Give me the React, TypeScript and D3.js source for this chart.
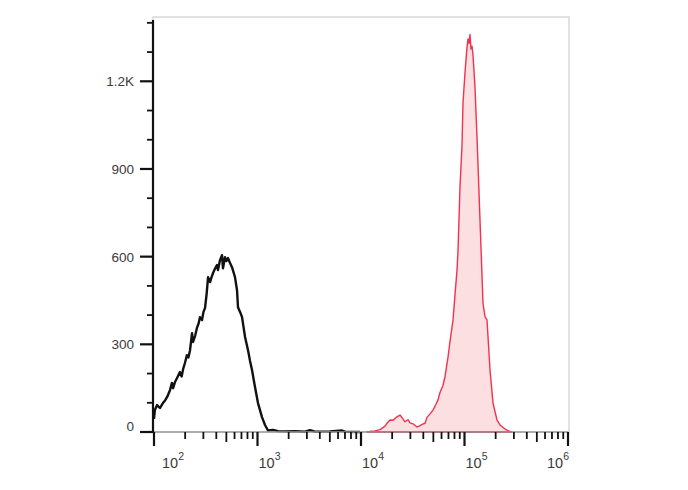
import React from "react";
import * as d3 from "d3";

// Black (unstained / control) histogram: fluorescence intensity vs count
const controlIntensity = [100, 102, 107, 114, 122, 128, 134, 143, 149, 153, 160, 167, 178, 185, 191, 199, 208, 215, 223, 233, 238, 250, 260, 270, 278, 291, 300, 311, 322, 333, 348, 360, 372, 390, 406, 415, 434, 454, 464, 485, 500, 519, 540, 567, 606, 634, 648, 680, 709, 758, 810, 845, 885, 946, 1011, 1105, 1182, 1263, 1412, 1578, 1844, 2303, 2877, 3216, 3594, 5018, 6553, 7004, 9779];
const controlCount = [45, 75, 92, 82, 99, 108, 120, 144, 168, 150, 172, 185, 205, 190, 215, 236, 263, 255, 280, 338, 308, 330, 356, 372, 393, 383, 410, 424, 470, 530, 513, 530, 544, 560, 571, 554, 588, 605, 560, 598, 585, 595, 580, 564, 530, 485, 427, 410, 393, 325, 280, 245, 212, 154, 99, 51, 24, 5, 7, 3, 2, 3, 1, 6, 1, 2, 5, 1, 0];

// Red (stained) histogram
const stainedIntensity = [11430, 12220, 13660, 15260, 17060, 17840, 19060, 20380, 22270, 23820, 25460, 26620, 28460, 29750, 31810, 34760, 37150, 38850, 41530, 43420, 46420, 49630, 53050, 55460, 57990, 62000, 64820, 69290, 72440, 77440, 80960, 84640, 86540, 90470, 94580, 96710, 101100, 105700, 108100, 110500, 113000, 115600, 118200, 120800, 126300, 132100, 141200, 150900, 157800, 165000, 176400, 188600, 206100, 220300, 246200, 275200, 287700];
const stainedCount = [0, 2, 4, 8, 20, 30, 41, 40, 52, 58, 45, 35, 42, 31, 28, 17, 22, 26, 30, 50, 62, 75, 95, 110, 135, 160, 190, 256, 310, 383, 470, 554, 620, 838, 980, 1125, 1230, 1316, 1345, 1330, 1360, 1310, 1320, 1290, 1180, 1009, 725, 441, 395, 383, 212, 99, 41, 24, 10, 2, 0];

// Axes
const xDomain = [100, 1000000];
const xDecades = [100, 1000, 10000, 100000, 1000000];
const xExponents = ["2", "3", "4", "5", "6"];
const yDomain = [0, 1420];
const yMajorTicks = [0, 300, 600, 900, 1200];
const yMajorLabels = ["0", "300", "600", "900", "1.2K"];
const yMinorTicks = [100, 200, 400, 500, 700, 800, 1000, 1100, 1300, 1400];

const W = 688;
const H = 490;
const left = 154;
const right = 568;
const top = 17;
const bottom = 432;

export default function App() {
  const x = d3.scaleLog().domain(xDomain).range([left, right]);
  const y = d3.scaleLinear().domain(yDomain).range([bottom, top]);

  const control = controlIntensity.map((v, i) => [v, controlCount[i]] as [number, number]);
  const stained = stainedIntensity.map((v, i) => [v, stainedCount[i]] as [number, number]);

  const line = d3
    .line<[number, number]>()
    .x((d) => x(d[0]))
    .y((d) => y(d[1]));
  const area = d3
    .area<[number, number]>()
    .x((d) => x(d[0]))
    .y0(y(0))
    .y1((d) => y(d[1]));

  const minorX: { v: number; mid: boolean }[] = [];
  for (let i = 0; i < xDecades.length - 1; i++) {
    for (let m = 2; m <= 9; m++) minorX.push({ v: xDecades[i] * m, mid: m === 5 });
  }

  const font = "'Liberation Sans', Arial, sans-serif";

  return (
    <svg
      width={W}
      height={H}
      style={{ position: "absolute", left: 0, top: 0, display: "block", background: "#fff" }}
    >
      <rect x={0} y={0} width={W} height={H} fill="#fff" />
      {/* frame */}
      <rect x={left - 1} y={top} width={right - left + 2} height={bottom - top} fill="none" stroke="#cfcfcf" strokeWidth={1.2} />

      {/* stained histogram */}
      <path d={area(stained) || ""} fill="#fcdfe1" stroke="#f0324e" strokeWidth={1.4} strokeLinejoin="round" />
      <path d={`M${x(stainedIntensity[0])},${y(0)}H${x(stainedIntensity[stainedIntensity.length - 1])}`} stroke="#e8283f" strokeWidth={2} />

      {/* control histogram */}
      <path d={line(control) || ""} fill="none" stroke="#111" strokeWidth={2.4} strokeLinejoin="round" />

      {/* x axis */}
      <line x1={left} x2={right} y1={bottom} y2={bottom} stroke="#9a9a9a" strokeWidth={1.5} />
      {xDecades.map((v) => (
        <line key={"xM" + v} x1={x(v)} x2={x(v)} y1={bottom} y2={bottom + 14} stroke="#111" strokeWidth={2.2} />
      ))}
      {minorX.map((t) => (
        <line key={"xm" + t.v} x1={x(t.v)} x2={x(t.v)} y1={bottom} y2={bottom + (t.mid ? 10 : 7)} stroke="#111" strokeWidth={1.8} />
      ))}
      {xDecades.map((v, i) => {
        const last = i === xDecades.length - 1;
        const xx = i === 0 ? x(v) + 8 : last ? x(v) + 1 : x(v) + 1;
        return (
          <text
            key={"xl" + v}
            x={xx}
            y={468}
            fontFamily={font}
            fontSize={14.5}
            fill="#3a3a3a"
            textAnchor={last ? "end" : "start"}
          >
            10
            <tspan dy={-8} fontSize={10.5}>
              {xExponents[i]}
            </tspan>
          </text>
        );
      })}

      {/* y axis */}
      <line x1={left - 1} x2={left - 1} y1={top + 3} y2={bottom + 1} stroke="#111" strokeWidth={2.2} />
      {yMajorTicks.map((v) => (
        <line key={"yM" + v} x1={left - 14} x2={left - 1} y1={y(v)} y2={y(v)} stroke="#111" strokeWidth={2.2} />
      ))}
      {yMinorTicks.map((v) => (
        <line key={"ym" + v} x1={left - 7} x2={left - 1} y1={y(v)} y2={y(v)} stroke="#111" strokeWidth={1.8} />
      ))}
      {yMajorTicks.map((v, i) => (
        <text
          key={"yl" + v}
          x={134}
          y={y(v) + (v === 0 ? -5 : 1.5)}
          dominantBaseline="middle"
          textAnchor="end"
          fontFamily={font}
          fontSize={13.5}
          fill="#3a3a3a"
        >
          {yMajorLabels[i]}
        </text>
      ))}
    </svg>
  );
}
